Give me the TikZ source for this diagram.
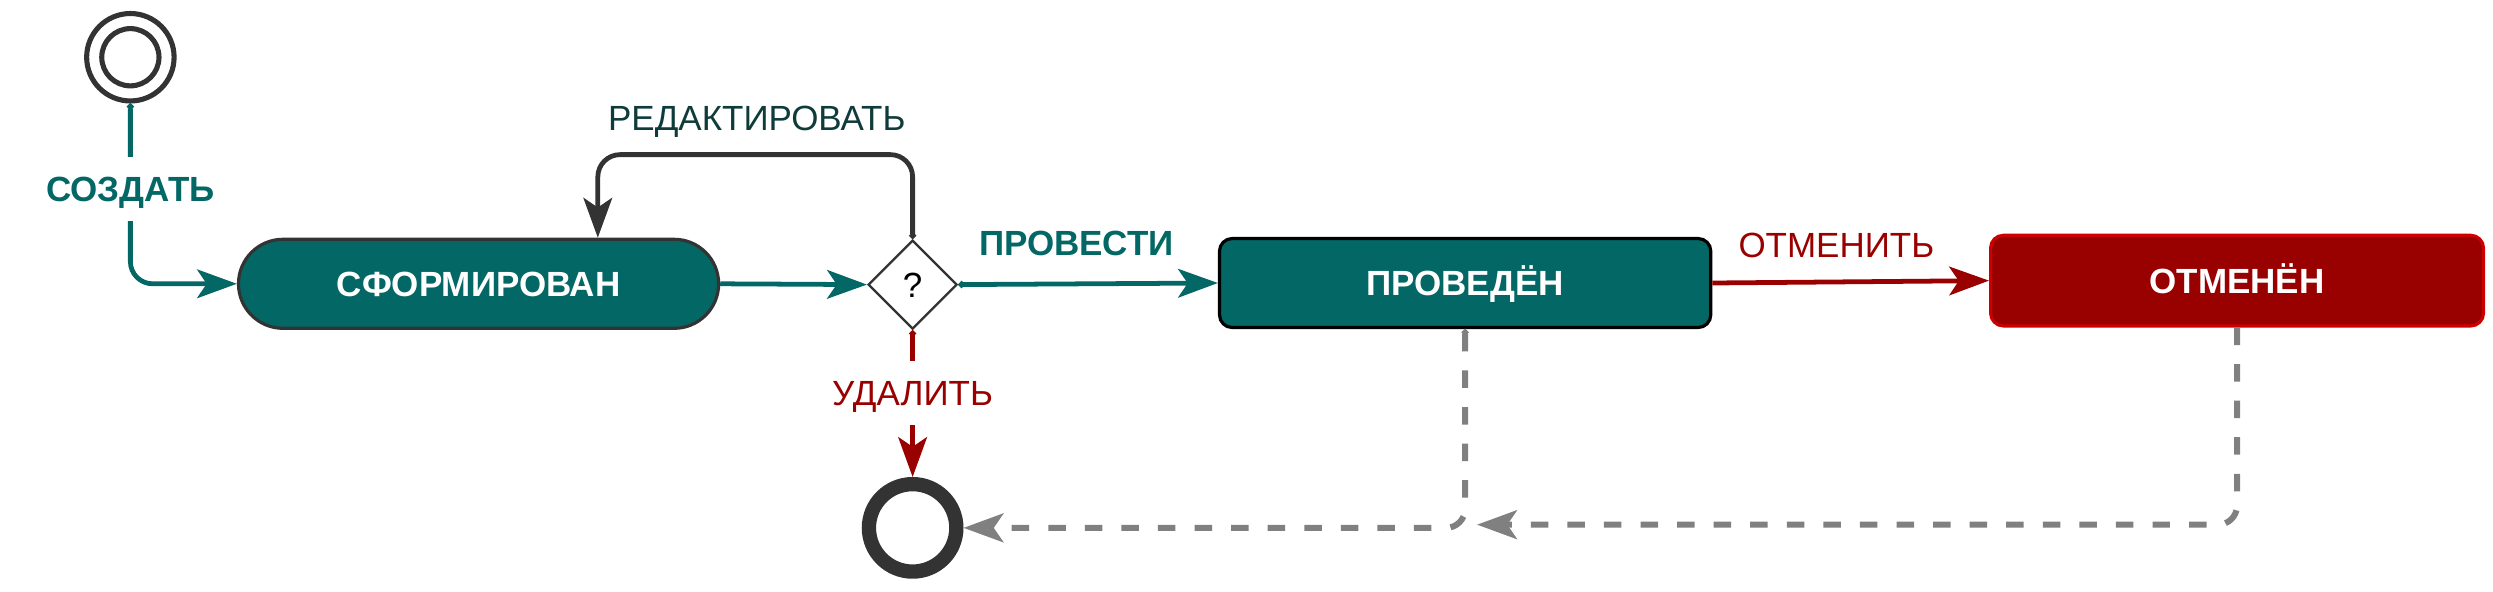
\documentclass[tikz,border=0pt]{standalone}
\usepackage{fontspec}
\setmainfont{Liberation Sans}
\usetikzlibrary{arrows.meta,shapes.geometric}
\definecolor{tealc}{HTML}{036865}
\definecolor{darkc}{HTML}{333333}
\definecolor{redc}{HTML}{990000}
\definecolor{redb}{HTML}{CC0000}
\definecolor{grayc}{HTML}{808080}
\definecolor{labdark}{HTML}{0F3B3B}
\tikzset{
  txt/.style={font=\fontsize{22}{26}\selectfont, text height=16pt, text depth=0pt},
  statebox/.style={txt, font=\fontsize{22}{26}\selectfont\bfseries, text=white, rectangle, line width=2pt, minimum height=56pt, inner sep=0pt},
  lab/.style={txt, inner xsep=2pt, inner ysep=2pt},
  cutlab/.style={txt, fill=white, inner xsep=2pt, inner ysep=12pt},
  headtip/.tip={Stealth[length=25pt 0 0,width=18pt 0 0,inset=6pt 0 0]},
  tailtip/.tip={Circle[length=4pt 0 0,width=4pt 0 0]},
  tip/.style={arrows={-headtip}},
  dot/.style={arrows={tailtip-headtip}},
  conn/.style={line width=3pt, rounded corners=14pt},
  dashconn/.style={line width=3.8pt, draw=grayc, dash pattern=on 11pt off 12pt, rounded corners=12pt},
}
\begin{document}
\begin{tikzpicture}[x=1pt,y=-1pt]
\useasboundingbox (0,0) rectangle (1568,372);
% initial state
\node[circle, draw=darkc, line width=3.2pt, minimum size=55pt, inner sep=0pt] (init) at (82,36) {};
\node[circle, draw=darkc, line width=3.2pt, minimum size=36pt, inner sep=0pt] (initin) at (82,36) {};
% states
\node[statebox, fill=tealc, draw=darkc, minimum width=302pt, rounded corners=28pt] (sform) at (301,178.5) {СФОРМИРОВАН};
\node[diamond, draw=darkc, fill=white, line width=1.5pt, minimum size=56pt, inner sep=0pt, txt] (dia) at (574,179) {?};
\node[statebox, fill=tealc, draw=black, minimum width=309pt, rounded corners=8pt] (prov) at (921.5,178) {ПРОВЕДЁН};
\node[statebox, fill=redc, draw=redb, minimum width=310pt, minimum height=57pt, rounded corners=8pt] (otm) at (1407,176.5) {ОТМЕНЁН};
% final state
\node[circle, draw=darkc, fill=white, line width=9pt, minimum size=55pt, inner sep=0pt] (fin) at (574,332) {};
\coordinate (back) at (929,330);
% connectors
\draw[conn, tealc, dot] (init.south) |- (sform.west);
\node[cutlab, text=tealc, font=\fontsize{22}{26}\selectfont\bfseries] (lcreate) at (82,119) {СОЗДАТЬ};
\draw[conn, tealc, tip] (sform.east) -- (dia.west);
\draw[conn, darkc, dot] (dia.north) -- ++(0,-53) -| ([xshift=75pt]sform.north);
\node[lab, text=labdark] (ledit) at (476,74) {РЕДАКТИРОВАТЬ};
\draw[conn, tealc, dot] (dia.east) -- (prov.west);
\node[lab, text=tealc, font=\fontsize{22}{26}\selectfont\bfseries] (lpost) at (677,153) {ПРОВЕСТИ};
\draw[conn, redc, tip] (prov.east) -- (otm.west);
\node[lab, text=redc] (lcancel) at (1155,154) {ОТМЕНИТЬ};
\draw[conn, redc, dot] (dia.south) -- (fin.north);
\node[cutlab, text=redc] (ldel) at (574,247) {УДАЛИТЬ};
\draw[dashconn, dot, grayc] (prov.south) |- (fin.east);
\draw[dashconn, tip, grayc] (otm.south) |- (back);
\end{tikzpicture}
\end{document}
